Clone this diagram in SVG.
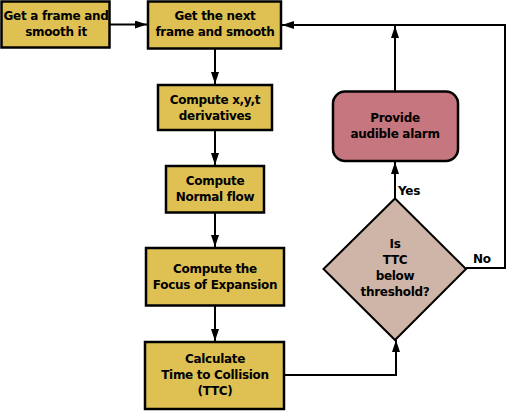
<svg xmlns="http://www.w3.org/2000/svg" width="507" height="411" viewBox="0 0 507 411">
<style>
.box{fill:#dfc153;stroke:#000;stroke-width:2.5}
.dia{fill:#cfb5a7;stroke:#000;stroke-width:2}
.alarm{fill:#c6767f;stroke:#000;stroke-width:2.5}
.t{font-family:"DejaVu Sans",sans-serif;font-weight:bold;font-size:12px;fill:#000;text-anchor:middle;letter-spacing:-0.3px}
.l{font-family:"DejaVu Sans",sans-serif;font-weight:bold;font-size:12px;fill:#000;letter-spacing:-0.3px}
.c{fill:none;stroke:#000;stroke-width:2}
</style>
<defs>
<marker id="ah" viewBox="0 0 12 8" refX="12" refY="4" markerWidth="12" markerHeight="8" markerUnits="userSpaceOnUse" orient="auto">
<path d="M0,0 L12,4 L0,8 Z" fill="#000"/>
</marker>
</defs>
<rect width="507" height="411" fill="#fff"/>
<g id="connectors">
<line class="c" x1="110" y1="24.5" x2="147" y2="24.5" marker-end="url(#ah)"/>
<polyline class="c" points="466,268 505,268 505,25 282,25" marker-end="url(#ah)"/>
<line class="c" x1="215" y1="49" x2="215" y2="84" marker-end="url(#ah)"/>
<line class="c" x1="215" y1="130" x2="215" y2="165" marker-end="url(#ah)"/>
<line class="c" x1="215" y1="213" x2="215" y2="247" marker-end="url(#ah)"/>
<line class="c" x1="215" y1="306" x2="215" y2="341" marker-end="url(#ah)"/>
<polyline class="c" points="284,375 396,375 396,340" marker-end="url(#ah)"/>
<line class="c" x1="395" y1="198" x2="395" y2="162" marker-end="url(#ah)"/>
<line class="c" x1="395" y1="91" x2="395" y2="26" marker-end="url(#ah)"/>
<text class="l" x="398" y="195">Yes</text>
<text class="l" x="473" y="263">No</text>
</g>
<g id="n1">
<rect class="box" x="1.5" y="1.5" width="108" height="46"/>
<text class="t" x="56" y="20">Get a frame and</text>
<text class="t" x="56" y="36">smooth it</text>
</g>
<g id="n2">
<rect class="box" x="148" y="1.5" width="133" height="47"/>
<text class="t" x="215" y="20">Get the next</text>
<text class="t" x="215" y="36">frame and smooth</text>
</g>
<g id="n3">
<rect class="box" x="158" y="85" width="114" height="45"/>
<text class="t" x="215" y="104">Compute x,y,t</text>
<text class="t" x="215" y="120">derivatives</text>
</g>
<g id="n4">
<rect class="box" x="166" y="166" width="98" height="46.5"/>
<text class="t" x="215" y="185">Compute</text>
<text class="t" x="215" y="201">Normal flow</text>
</g>
<g id="n5">
<rect class="box" x="146" y="248" width="138" height="57.5"/>
<text class="t" x="215" y="273">Compute the</text>
<text class="t" x="215" y="289">Focus of Expansion</text>
</g>
<g id="n6">
<rect class="box" x="145" y="342" width="139" height="67"/>
<text class="t" x="215" y="363">Calculate</text>
<text class="t" x="215" y="379">Time to Collision</text>
<text class="t" x="215" y="395">(TTC)</text>
</g>
<g id="n7">
<path class="dia" d="M395,198.5 L466,269 L395,340 L323.5,269 Z"/>
<text class="t" x="395" y="248">Is</text>
<text class="t" x="395" y="264">TTC</text>
<text class="t" x="395" y="280">below</text>
<text class="t" x="395" y="296">threshold?</text>
</g>
<g id="n8">
<rect class="alarm" x="333" y="91.5" width="125" height="69.5" rx="12" ry="12"/>
<text class="t" x="395" y="122">Provide</text>
<text class="t" x="395" y="138">audible alarm</text>
</g>
</svg>
